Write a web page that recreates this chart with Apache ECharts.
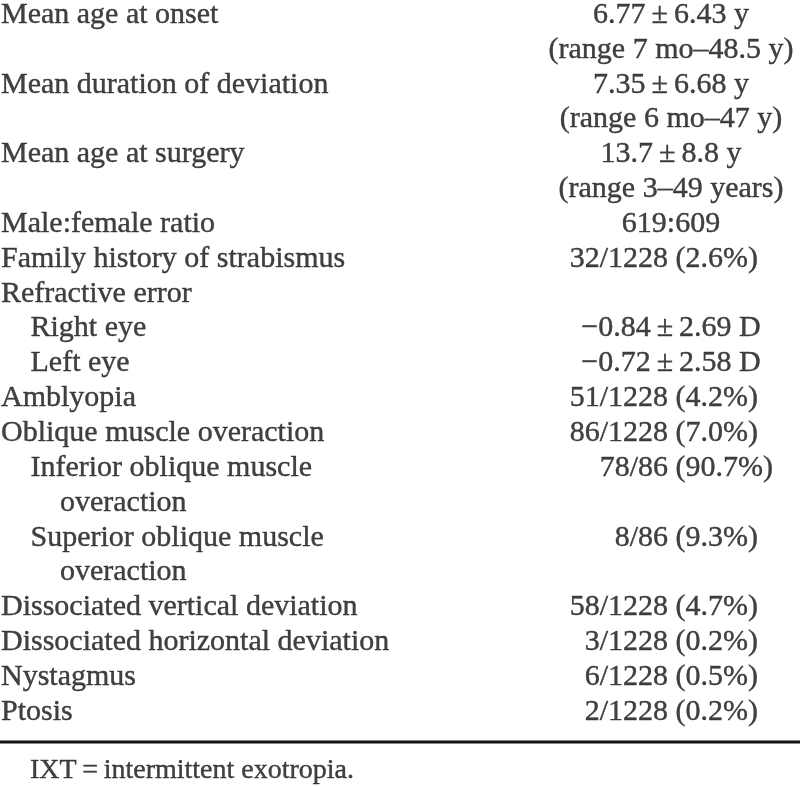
<!DOCTYPE html>
<html>
<head>
<meta charset="utf-8">
<script src="https://cdn.jsdelivr.net/npm/echarts@6/dist/echarts.min.js"></script>
<style>
html,body{margin:0;padding:0;background:#fff;}
#c{width:800px;height:787px;}
</style>
</head>
<body>
<div id="c"></div>
<script>
// ---- table content (one entry per printed line) ----
const labelText = [
  "Mean age at onset", "",
  "Mean duration of deviation", "",
  "Mean age at surgery", "",
  "Male:female ratio",
  "Family history of strabismus",
  "Refractive error",
  "Right eye",
  "Left eye",
  "Amblyopia",
  "Oblique muscle overaction",
  "Inferior oblique muscle",
  "overaction",
  "Superior oblique muscle",
  "overaction",
  "Dissociated vertical deviation",
  "Dissociated horizontal deviation",
  "Nystagmus",
  "Ptosis"
];
const labelIndent = [0,0,0,0,0,0,0,0,0,1,1,0,0,1,2,1,2,0,0,0,0];
const valueText = [
  "6.77\u2009\u00b1\u20096.43 y", "(range 7 mo\u201348.5 y)",
  "7.35\u2009\u00b1\u20096.68 y", "(range 6 mo\u201347 y)",
  "13.7\u2009\u00b1\u20098.8 y", "(range 3\u201349 years)",
  "619:609",
  "32/1228 (2.6%)",
  "",
  "\u22120.84\u2009\u00b1\u20092.69 D",
  "\u22120.72\u2009\u00b1\u20092.58 D",
  "51/1228 (4.2%)",
  "86/1228 (7.0%)",
  "78/86 (90.7%)",
  "",
  "8/86 (9.3%)",
  "",
  "58/1228 (4.7%)",
  "3/1228 (0.2%)",
  "6/1228 (0.5%)",
  "2/1228 (0.2%)"
];
const footnote = "IXT\u2009=\u2009intermittent exotropia.";

// ---- layout (style constants, not data) ----
const FONT = "Liberation Serif";
const FS = 30, FS_FOOT = 28;
const COLOR = "#111";
const labelX0 = 1, indentStep = 29.5;
const valueX = 671;          // centre of the value column
const pctRight = 758;        // right edge for "(x.x%)" values (decimal aligned)
const digitW = FS * 0.5;
const ruleRow = 20.864;
const footRow = 21.70;
const footX = 30;

const labelPts = [];
labelText.forEach((t, i) => {
  if (!t) return;
  labelPts.push({
    name: t, value: [labelX0 + labelIndent[i] * indentStep, i],
    label: {align: "left"}
  });
});
const valuePts = [];
valueText.forEach((t, i) => {
  if (!t) return;
  const m = t.match(/\((\d+)\.\d%\)$/);
  if (m) {
    valuePts.push({name: t, value: [pctRight + (m[1].length - 1) * digitW, i],
      label: {align: "right"}});
  } else {
    valuePts.push({name: t, value: [valueX, i], label: {align: "center"}});
  }
});
const footPts = [{name: footnote, value: [footX, footRow],
  label: {align: "left", fontSize: FS_FOOT}}];

const chart = echarts.init(document.getElementById("c"), null, {renderer: "canvas"});
const txtLabel = {
  show: true, position: "inside", formatter: p => p.name,
  fontFamily: FONT, fontSize: FS, color: COLOR, verticalAlign: "middle",
  textBorderColor: COLOR, textBorderWidth: 0.4
};
chart.setOption({
  animation: false,
  backgroundColor: "#fff",
  grid: {left: 0, right: 0, top: 0, bottom: 0},
  xAxis: {type: "value", min: 0, max: 800, show: false},
  yAxis: {type: "value", min: -0.43, max: 22.156, inverse: true, show: false},
  series: [
    {type: "scatter", symbolSize: 0, data: labelPts, label: txtLabel, silent: true},
    {type: "scatter", symbolSize: 0, data: valuePts, label: txtLabel, silent: true},
    {type: "scatter", symbolSize: 0, data: footPts, label: txtLabel, silent: true},
    {type: "line", symbol: "none", silent: true,
     data: [[0, ruleRow], [800, ruleRow]],
     lineStyle: {color: "#111", width: 3}}
  ]
});
</script>
</body>
</html>
